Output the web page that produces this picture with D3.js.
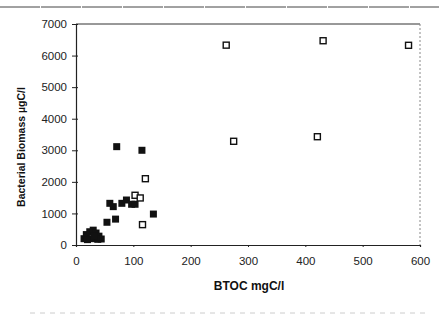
<!DOCTYPE html>
<html>
<head>
<meta charset="utf-8">
<script src="https://cdn.jsdelivr.net/npm/d3@7"></script>
<style>
  body { margin: 0; background: #fff; }
  text { font-family: Arial, "Liberation Sans", sans-serif; }
</style>
</head>
<body>
<div id="container"></div>
<script>
// data (BTOC mgC/l, biomass ugC/l)
let openX = [262, 431, 580, 275, 421, 121, 103, 112, 116];
let openY = [6330, 6470, 6325, 3285, 3430, 2100, 1575, 1490, 645];

let filledX = [71, 115, 59, 65, 80, 88, 97, 103, 69, 54, 135, 14, 18, 24, 30, 35, 40, 44, 28, 20, 38, 32];
let filledY = [3115, 3000, 1320, 1215, 1320, 1425, 1290, 1290, 820, 720, 980, 200, 330, 420, 470, 380, 280, 190, 200, 170, 180, 300];

let xTicks = [0, 100, 200, 300, 400, 500, 600];
let yTicks = [0, 1000, 2000, 3000, 4000, 5000, 6000, 7000];

let w = 439;
let h = 318;
let padLeft = 76, padRight = 420, padTop = 24, padBottom = 245;

let viz = d3.select("#container")
  .append("svg")
    .attr("width", w)
    .attr("height", h)
;

// scan edges
viz.append("line")
  .attr("x1", 0).attr("x2", w).attr("y1", 7).attr("y2", 7)
  .attr("stroke", "#444").attr("stroke-width", 1).attr("stroke-dasharray", "40,1");
viz.append("line")
  .attr("x1", 30).attr("x2", w - 10).attr("y1", 313).attr("y2", 313)
  .attr("stroke", "#ccc").attr("stroke-width", 1).attr("stroke-dasharray", "5,5");

let xScale = d3.scaleLinear().domain([0, 600]).range([padLeft, padRight]);
let yScale = d3.scaleLinear().domain([0, 7000]).range([padBottom, padTop]);

// frame: top solid, right dotted
viz.append("line")
  .attr("x1", padLeft).attr("x2", padRight).attr("y1", padTop).attr("y2", padTop)
  .attr("stroke", "#333").attr("stroke-width", 1);
viz.append("line")
  .attr("x1", padRight).attr("x2", padRight).attr("y1", padTop).attr("y2", padBottom)
  .attr("stroke", "#888").attr("stroke-width", 1).attr("stroke-dasharray", "2,2");

// x axis
let xAxis = d3.axisBottom(xScale).tickValues(xTicks).tickSize(2).tickPadding(10)
  .tickFormat(d3.format("d"));
let xAxisGroup = viz.append("g").attr("class", "xaxis")
  .attr("transform", "translate(0," + padBottom + ")")
  .call(xAxis);

// y axis
let yAxis = d3.axisLeft(yScale).tickValues(yTicks).tickSize(4).tickPadding(5)
  .tickFormat(d3.format("d"));
let yAxisGroup = viz.append("g").attr("class", "yaxis")
  .attr("transform", "translate(" + padLeft + ",0)")
  .call(yAxis);

viz.selectAll(".xaxis path, .yaxis path").attr("stroke", "#222").attr("stroke-width", 1.2);
viz.selectAll(".xaxis line, .yaxis line").attr("stroke", "#222");
viz.selectAll(".yaxis .tick line").attr("x2", -4).attr("x1", 2);
viz.selectAll(".xaxis text, .yaxis text")
  .attr("font-size", 11.5)
  .attr("font-family", "Arial, 'Liberation Sans', sans-serif")
  .attr("fill", "#222");

// titles
viz.append("text")
  .text("BTOC mgC/l")
  .attr("x", 249).attr("y", 290)
  .attr("text-anchor", "middle")
  .attr("font-size", 12).attr("font-weight", "bold").attr("fill", "#111");

viz.append("text")
  .text("Bacterial Biomass µgC/l")
  .attr("transform", "translate(25,147) rotate(-90)")
  .attr("text-anchor", "middle")
  .attr("font-size", 10.5).attr("font-weight", "bold").attr("fill", "#111");

// points
let s = 7;
let graphgroup = viz.append("g").attr("class", "graphgroup");

graphgroup.selectAll(".filled").data(filledX)
  .enter()
  .append("rect")
    .attr("class", "filled")
    .attr("x", function(d){ return xScale(d) - s/2; })
    .attr("y", function(d, i){ return yScale(filledY[i]) - s/2; })
    .attr("width", s).attr("height", s)
    .attr("fill", "#111")
;

graphgroup.selectAll(".open").data(openX)
  .enter()
  .append("rect")
    .attr("class", "open")
    .attr("x", function(d){ return xScale(d) - 3; })
    .attr("y", function(d, i){ return yScale(openY[i]) - 3; })
    .attr("width", 6).attr("height", 6)
    .attr("fill", "#fff")
    .attr("stroke", "#111")
    .attr("stroke-width", 1.4)
;
</script>
</body>
</html>
